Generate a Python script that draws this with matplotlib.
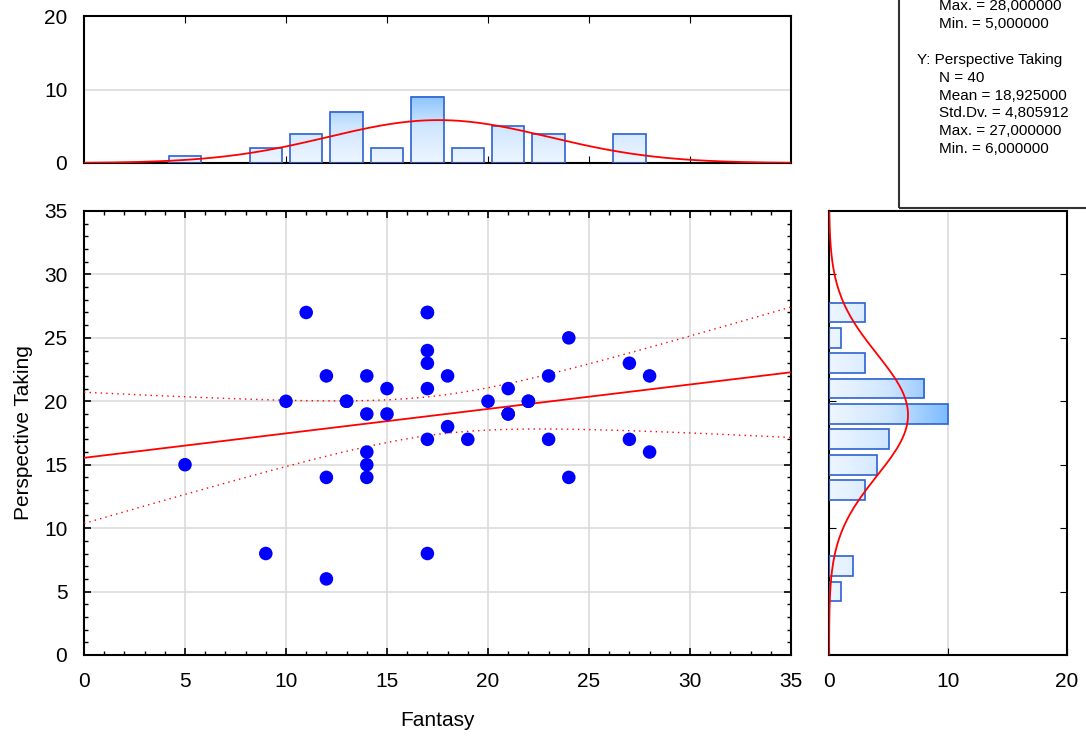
import matplotlib
matplotlib.use('Agg')
import matplotlib.pyplot as plt
import numpy as np
from matplotlib.colors import LinearSegmentedColormap
from matplotlib.patches import Rectangle
from matplotlib.ticker import MultipleLocator

plt.rcParams['font.family'] = ['Liberation Sans', 'DejaVu Sans']

# data (overlapping points recovered from the histograms)
fantasy = [5, 9, 10, 11, 12, 12, 12, 13, 13, 14, 14, 14, 14, 14, 15, 15, 17, 17, 17, 17,
           17, 17, 17, 18, 18, 19, 20, 21, 21, 21, 22, 22, 23, 23, 24, 24, 27, 27, 28, 28]
perspective = [15, 8, 20, 27, 22, 14, 6, 20, 20, 22, 19, 16, 15, 14, 21, 19, 27, 27, 24, 23,
               21, 17, 8, 22, 18, 17, 20, 21, 19, 19, 20, 20, 22, 17, 25, 14, 23, 17, 22, 16]
x_label = 'Fantasy'
y_label = 'Perspective Taking'
x_bin_centers = np.arange(5, 29, 2)
y_bin_centers = np.arange(5, 29, 2)

x = np.array(fantasy, dtype=float)
y = np.array(perspective, dtype=float)
n = len(x)

def counts(vals, centers):
    return np.array([np.sum((vals > c - 1) & (vals <= c + 1)) for c in centers])

xc = counts(x, x_bin_centers)
yc = counts(y, y_bin_centers)

cmap = LinearSegmentedColormap.from_list('bars', ['#eef6ff', '#cfe6ff', '#7cbcff'])
edge = '#2e62d2'
red = '#ff0000'
grid_c = '#dcdcdc'

W, H = 1086, 740
fig = plt.figure(figsize=(W / 100, H / 100), dpi=100)

def ax_px(l, t, r, b):
    return fig.add_axes([l / W, 1 - b / H, (r - l) / W, (b - t) / H])

ax_top = ax_px(84, 16, 791, 163)
ax = ax_px(84, 211, 791, 655)
ax_r = ax_px(829, 211, 1067, 655)

# ---- main scatter ----
ax.set_xlim(0, 35)
ax.set_ylim(0, 35)
ax.xaxis.set_major_locator(MultipleLocator(5))
ax.yaxis.set_major_locator(MultipleLocator(5))
ax.xaxis.set_minor_locator(MultipleLocator(1))
ax.yaxis.set_minor_locator(MultipleLocator(1))
ax.grid(True, which='major', color=grid_c, lw=1.2)
ax.set_axisbelow(True)
ax.tick_params(which='both', direction='in', top=True, right=True, labelsize=15, color='black')
ax.tick_params(which='major', length=5, width=1.2, pad=12)
ax.tick_params(which='minor', length=3, width=1)
for s in ax.spines.values():
    s.set_linewidth(1.5)

b, a = np.polyfit(x, y, 1)
xs = np.linspace(0, 35, 200)
yhat = a + b * xs
resid = y - (a + b * x)
se = np.sqrt(np.sum(resid ** 2) / (n - 2))
sxx = np.sum((x - x.mean()) ** 2)
t_val = 2.024
half = t_val * se * np.sqrt(1 / n + (xs - x.mean()) ** 2 / sxx)
ax.plot(xs, yhat, color=red, lw=1.3, zorder=3)
ax.plot(xs, yhat + half, color=red, lw=1, ls=(0, (1, 3)), zorder=3)
ax.plot(xs, yhat - half, color=red, lw=1, ls=(0, (1, 3)), zorder=3)
ax.scatter(x, y, s=95, color='#0000ff', edgecolors='none', zorder=4)
ax.set_xlabel(x_label, fontsize=15, labelpad=15)
ax.set_ylabel(y_label, fontsize=15, labelpad=8)

# ---- top histogram (same x scale as the scatter) ----
for c, k in zip(x_bin_centers, xc):
    if k == 0:
        continue
    l, r = c - 0.8, c + 0.8
    grad = np.linspace(0, k, 100).reshape(-1, 1) / 10
    ax_top.imshow(grad, extent=(l, r, 0, k), origin='lower', aspect='auto', cmap=cmap,
                  vmin=0, vmax=1, zorder=2)
    ax_top.add_patch(Rectangle((l, 0), r - l, k, fill=False, ec=edge, lw=1.2, zorder=3))
xg = np.linspace(0, 35, 300)
sx = x.std(ddof=1)
ax_top.plot(xg, n * 2 * np.exp(-0.5 * ((xg - x.mean()) / sx) ** 2) / (sx * np.sqrt(2 * np.pi)),
            color=red, lw=1.3, zorder=4)
ax_top.set_xlim(0, 35)
ax_top.set_ylim(0, 20)
ax_top.set_yticks([0, 10, 20])
ax_top.set_xticks(np.arange(5, 35, 5))
ax_top.grid(True, axis='y', color=grid_c, lw=1.2)
ax_top.set_axisbelow(True)
ax_top.tick_params(axis='x', direction='in', length=5, top=True, labelbottom=False)
ax_top.tick_params(axis='y', length=0, labelsize=15, pad=12)
for s in ax_top.spines.values():
    s.set_linewidth(1.5)

# ---- right histogram ----
for c, k in zip(y_bin_centers, yc):
    if k == 0:
        continue
    lo, hi = c - 0.78, c + 0.78
    grad = np.linspace(0, k, 100).reshape(1, -1) / 10
    ax_r.imshow(grad, extent=(0, k, lo, hi), origin='lower', aspect='auto', cmap=cmap,
                vmin=0, vmax=1, zorder=2)
    ax_r.add_patch(Rectangle((0, lo), k, hi - lo, fill=False, ec=edge, lw=1.2, zorder=3))
yg = np.linspace(0, 35, 300)
sy = y.std(ddof=1)
ax_r.plot(n * 2 * np.exp(-0.5 * ((yg - y.mean()) / sy) ** 2) / (sy * np.sqrt(2 * np.pi)), yg,
          color=red, lw=1.3, zorder=4)
ax_r.set_xlim(0, 20)
ax_r.set_ylim(0, 35)
ax_r.set_xticks([0, 10, 20])
ax_r.set_yticks(np.arange(5, 35, 5))
ax_r.grid(True, axis='x', color=grid_c, lw=1.2)
ax_r.set_axisbelow(True)
ax_r.tick_params(axis='x', direction='in', length=5, labelsize=15, pad=12)
ax_r.tick_params(axis='y', direction='in', length=5, right=True, labelleft=False)
for s in ax_r.spines.values():
    s.set_linewidth(1.5)

# ---- statistics box (partly off the top of the image) ----
fig.patches.append(Rectangle((899 / W, 1 - 208 / H), 0.3, 0.4, transform=fig.transFigure,
                             fill=False, ec='#333333', lw=1.5, clip_on=False))

def fmt(v):
    return f'{v:.6f}'.replace('.', ',')

stats = [
    (939, 6, f'Max. = {fmt(x.max())}'),
    (939, 24, f'Min. = {fmt(x.min())}'),
    (917, 60, f'Y: {y_label}'),
    (939, 78, f'N = {n}'),
    (939, 96, f'Mean = {fmt(y.mean())}'),
    (939, 113, f'Std.Dv. = {fmt(sy)}'),
    (939, 131, f'Max. = {fmt(y.max())}'),
    (939, 149, f'Min. = {fmt(y.min())}'),
]
for px, py, s in stats:
    fig.text(px / W, 1 - py / H, s, fontsize=11, ha='left', va='center')

fig.savefig('out.png', dpi=100)
